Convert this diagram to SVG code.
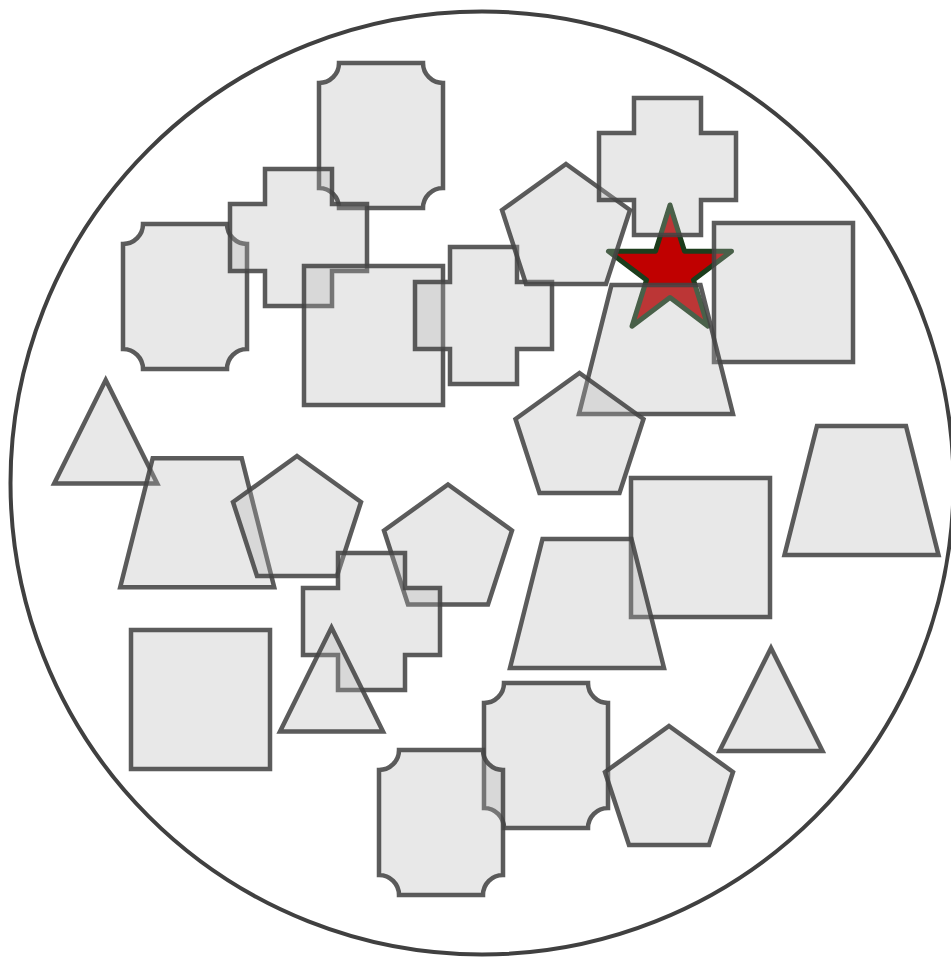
<svg xmlns="http://www.w3.org/2000/svg" width="951" height="959" viewBox="0 0 951 959">
<style>
.s{fill:#b3b3b3;fill-opacity:0.3;stroke:#444;stroke-opacity:0.87;stroke-width:4.5;stroke-linejoin:miter}
</style>
<rect width="951" height="959" fill="#fff"/>
<circle cx="482" cy="483" r="471.5" fill="#fff" stroke="#404040" stroke-width="4"/>
<g id="star"><polygon points="670,205 684.5,251.3 731.5,251.3 693.5,279.9 708,326.2 670,297.6 632,326.2 646.5,279.9 608.5,251.3 655.5,251.3" fill="#c00000" stroke="#1c3d1c" stroke-width="5" stroke-linejoin="round"/></g>
<g id="notchA"><path class="s" d="M339,63 H423 A20,20 0 0 0 443,83 V188 A20,20 0 0 0 423,208 H339 A20,20 0 0 0 319,188 V83 A20,20 0 0 0 339,63 Z"/></g>
<g id="notchC"><path class="s" d="M143,224 H227 A20,20 0 0 0 247,244 V349 A20,20 0 0 0 227,369 H143 A20,20 0 0 0 123,349 V244 A20,20 0 0 0 143,224 Z"/></g>
<g id="crossB"><path class="s" d="M265,169 H332 V204 H367 V271 H332 V306 H265 V271 H230 V204 H265 Z"/></g>
<g id="squareD"><rect class="s" x="304" y="266" width="139" height="139"/></g>
<g id="crossE"><path class="s" d="M450,247 H517 V282 H552 V349 H517 V384 H450 V349 H415 V282 H450 Z"/></g>
<g id="pentF"><polygon class="s" points="566,164 630,210 606,284 526,284 502,210"/></g>
<g id="crossG"><path class="s" d="M634,98 H701 V133 H736 V200 H701 V235 H634 V200 H599 V133 H634 Z"/></g>
<g id="squareH"><rect class="s" x="714" y="223" width="139" height="139"/></g>
<g id="trapI"><polygon class="s" points="611.5,285 700.5,285 733,414 579,414"/></g>
<g id="pentJ"><polygon class="s" points="579.5,373 643.5,419 619.5,493 539.5,493 515.5,419"/></g>
<g id="trapK"><polygon class="s" points="817,426 906,426 938.5,555 784.5,555"/></g>
<g id="triR"><polygon class="s" points="105.7,380 157.2,483.5 54.2,483.5"/></g>
<g id="trapS"><polygon class="s" points="152.7,458.3 241.7,458.3 274.2,587.3 120.2,587.3"/></g>
<g id="pentT"><polygon class="s" points="297,456 361,502 337,576 257,576 233,502"/></g>
<g id="pentN"><polygon class="s" points="448,484.5 512,530.5 488,604.5 408,604.5 384,530.5"/></g>
<g id="squareM"><rect class="s" x="631" y="478" width="139" height="139"/></g>
<g id="trapL"><polygon class="s" points="542.5,539 631.5,539 664,668 510,668"/></g>
<g id="crossO"><path class="s" d="M338,553 H405 V588 H440 V655 H405 V690 H338 V655 H303 V588 H338 Z"/></g>
<g id="squareQ"><rect class="s" x="131" y="630" width="139" height="139"/></g>
<g id="triP"><polygon class="s" points="331.5,627.5 383,731.5 280,731.5"/></g>
<g id="triX"><polygon class="s" points="771,648 822.5,751 719.5,751"/></g>
<g id="notchU"><path class="s" d="M504,683 H588 A20,20 0 0 0 608,703 V808 A20,20 0 0 0 588,828 H504 A20,20 0 0 0 484,808 V703 A20,20 0 0 0 504,683 Z"/></g>
<g id="notchV"><path class="s" d="M399,750 H483 A20,20 0 0 0 503,770 V875 A20,20 0 0 0 483,895 H399 A20,20 0 0 0 379,875 V770 A20,20 0 0 0 399,750 Z"/></g>
<g id="pentW"><polygon class="s" points="669,726 733,772 709,845 629,845 605,772"/></g>
</svg>
